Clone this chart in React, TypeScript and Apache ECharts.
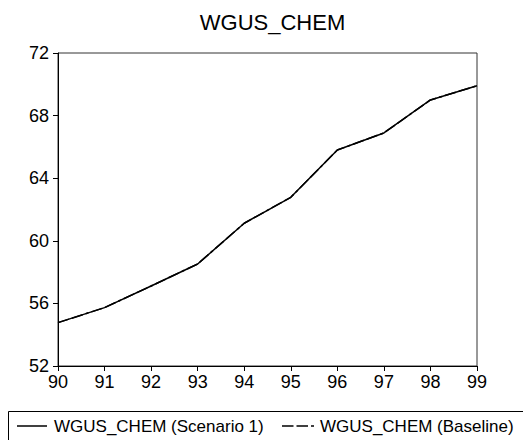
import React, { useEffect, useRef } from "react";
import * as echarts from "echarts";

const years = [90, 91, 92, 93, 94, 95, 96, 97, 98, 99];
const scenario1 = [54.77, 55.73, 57.11, 58.52, 61.12, 62.78, 65.8, 66.89, 69.0, 69.91];
const baseline = [54.77, 55.73, 57.11, 58.52, 61.12, 62.78, 65.8, 66.89, 69.0, 69.91];
const titleText = "WGUS_CHEM";
const seriesNames = ["WGUS_CHEM (Scenario 1)", "WGUS_CHEM (Baseline)"];

export default function App() {
  const ref = useRef<HTMLDivElement>(null);
  useEffect(() => {
    if (!ref.current) return;
    const chart = echarts.init(ref.current, null, { renderer: "svg" });
    const font = "'Liberation Sans', Arial, sans-serif";
    const legendY = 426;
    const dash = [11.5, 3, 11.5, 3, 3, 3];
    chart.setOption({
      animation: false,
      backgroundColor: "#fff",
      title: {
        text: titleText,
        left: 267.5,
        textAlign: "center",
        top: 6,
        textStyle: { fontFamily: font, fontSize: 22, fontWeight: "normal", color: "#000" },
      },
      grid: {
        left: 58,
        top: 53,
        right: 46,
        bottom: 74,
        show: true,
        borderColor: "#333",
        borderWidth: 1,
        containLabel: false,
      },
      xAxis: {
        type: "value",
        min: 90,
        max: 99,
        interval: 1,
        axisLine: { lineStyle: { color: "#000", width: 1 } },
        axisTick: { show: true, length: 5, inside: false, lineStyle: { color: "#000" } },
        axisLabel: { fontFamily: font, fontSize: 18, color: "#000", margin: 7 },
        splitLine: { show: false },
      },
      yAxis: {
        type: "value",
        min: 52,
        max: 72,
        interval: 4,
        axisLine: { show: true, lineStyle: { color: "#000", width: 1 } },
        axisTick: { show: true, length: 5, inside: false, lineStyle: { color: "#000" } },
        axisLabel: { fontFamily: font, fontSize: 18, color: "#000", margin: 9 },
        splitLine: { show: false },
      },
      graphic: [
        {
          type: "rect",
          shape: { x: 8.5, y: 411.5, width: 530, height: 60 },
          style: { fill: "none", stroke: "#000", lineWidth: 1 },
          silent: true,
        },
        {
          type: "line",
          shape: { x1: 17, y1: legendY, x2: 47, y2: legendY },
          style: { stroke: "#000", lineWidth: 1.5 },
          silent: true,
        },
        {
          type: "text",
          x: 54,
          y: legendY,
          style: {
            text: seriesNames[0],
            font: `17px ${font}`,
            fill: "#000",
            verticalAlign: "middle",
            align: "left",
          },
          silent: true,
        },
        {
          type: "line",
          shape: { x1: 282, y1: legendY, x2: 314, y2: legendY },
          style: { stroke: "#000", lineWidth: 1.5, lineDash: dash },
          silent: true,
        },
        {
          type: "text",
          x: 320,
          y: legendY,
          style: {
            text: seriesNames[1],
            font: `17px ${font}`,
            fill: "#000",
            verticalAlign: "middle",
            align: "left",
          },
          silent: true,
        },
      ],
      series: [
        {
          name: seriesNames[1],
          type: "line",
          data: years.map((y, i) => [y, baseline[i]]),
          symbol: "none",
          lineStyle: { color: "#000", width: 1.5, type: dash },
          itemStyle: { color: "#000" },
          z: 2,
        },
        {
          name: seriesNames[0],
          type: "line",
          data: years.map((y, i) => [y, scenario1[i]]),
          symbol: "none",
          lineStyle: { color: "#000", width: 1.5, type: "solid" },
          itemStyle: { color: "#000" },
          z: 3,
        },
      ],
    });
    return () => chart.dispose();
  }, []);
  return (
    <div
      ref={ref}
      style={{ position: "absolute", left: 0, top: 0, width: 523, height: 440 }}
    />
  );
}
